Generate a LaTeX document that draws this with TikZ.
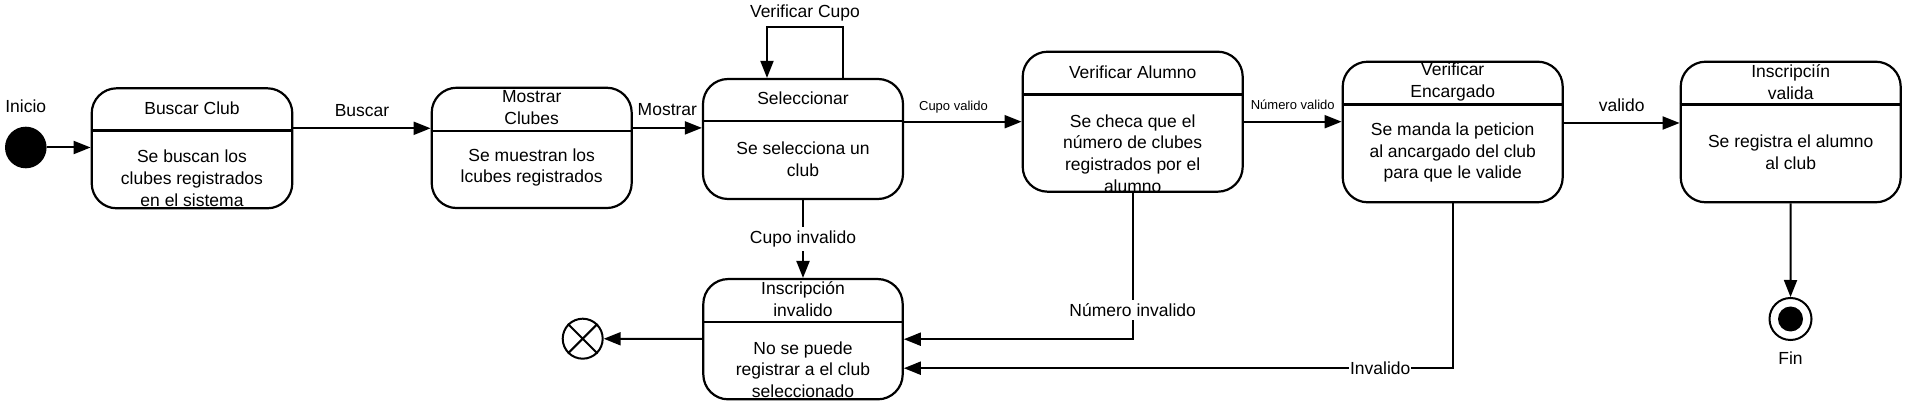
\documentclass[tikz,border=0pt]{standalone}
\usepackage{fontspec}
\setmainfont{Liberation Sans}
\usetikzlibrary{arrows.meta}
\usetikzlibrary{positioning}
\tikzstyle{estado} = [rectangle, rounded corners=25pt, draw=black, line width=2.2pt, inner sep=0pt]
\tikzstyle{texto} = [align=center, inner sep=1pt, font=\fontsize{17.5pt}{21.7pt}\selectfont]
\tikzstyle{chica} = [inner sep=1pt, font=\fontsize{13pt}{16pt}\selectfont]
\tikzstyle{corte} = [texto, fill=white, inner xsep=1pt, inner ysep=3.5pt]
\tikzstyle{flecha} = [line width=2pt, -{Triangle[length=17pt,width=13pt]}]
\tikzstyle{linea} = [line width=2.2pt]

\begin{document}
\begin{tikzpicture}[x=1pt,y=-1pt]
\useasboundingbox (0,0) rectangle (1909,411);

% inicio
\node (ini) [circle, fill=black, minimum size=41.6pt, inner sep=0pt] at (25.8,147.5) {};
\node (iniT) [texto, above=13pt of ini] {Inicio};

% Buscar Club
\node (buscar) [estado, minimum width=200.6pt, minimum height=120pt] at (192,148.3) {};
\node (buscarT) [texto] at (192,107.8) {Buscar Club};
\draw[linea] ([yshift=-43.4pt]buscar.north west) -- ([yshift=-43.4pt]buscar.north east);
\node (buscarB) [texto] at (192,178.3) {Se buscan los\\clubes registrados\\en el sistema};

% Mostrar Clubes
\node (mostrar) [estado, minimum width=200pt, minimum height=120.3pt] at (531.7,147.9) {};
\node (mostrarT) [texto] at (531.7,107.5) {Mostrar\\Clubes};
\draw[linea] ([yshift=-44pt]mostrar.north west) -- ([yshift=-44pt]mostrar.north east);
\node (mostrarB) [texto] at (531.7,167.5) {Se muestran los\\lcubes registrados};

% Seleccionar
\node (sel) [estado, minimum width=200pt, minimum height=120pt] at (803,139) {};
\node (selT) [texto] at (803,98.3) {Seleccionar};
\draw[linea] ([yshift=-43pt]sel.north west) -- ([yshift=-43pt]sel.north east);
\node (selB) [texto] at (803,159.2) {Se selecciona un\\club};

% Verificar Alumno
\node (alumno) [estado, minimum width=220pt, minimum height=140pt] at (1132.7,121.7) {};
\node (alumnoT) [texto] at (1132.7,72) {Verificar Alumno};
\draw[linea] ([yshift=-44pt]alumno.north west) -- ([yshift=-44pt]alumno.north east);
\node (alumnoB) [texto] at (1132.7,153.5) {Se checa que el\\número de clubes\\registrados por el\\alumno};

% Verificar Encargado
\node (enc) [estado, minimum width=220pt, minimum height=140.6pt] at (1452.7,132) {};
\node (encT) [texto] at (1452.7,82) {Verificar\\Encargado};
\draw[linea] ([yshift=-44pt]enc.north west) -- ([yshift=-44pt]enc.north east);
\node (encB) [texto] at (1452.7,152.5) {Se manda la peticion\\al ancargado del club\\para que le valide};

% Inscripcion valida
\node (valida) [estado, minimum width=220pt, minimum height=140.6pt] at (1790.7,132) {};
\node (validaT) [texto] at (1790.7,82) {Inscripciín\\valida};
\draw[linea] ([yshift=-44pt]valida.north west) -- ([yshift=-44pt]valida.north east);
\node (validaB) [texto] at (1790.7,152) {Se registra el alumno\\al club};

% Inscripcion invalido
\node (inval) [estado, minimum width=199.4pt, minimum height=120.3pt] at (803,339.2) {};
\node (invalT) [texto] at (803,298.8) {Inscripción\\invalido};
\draw[linea] ([yshift=-44.3pt]inval.north west) -- ([yshift=-44.3pt]inval.north east);
\node (invalB) [texto] at (803,369.5) {No se puede\\registrar a el club\\seleccionado};

% fin y terminacion
\node (fin) [circle, draw=black, line width=2pt, minimum size=42pt, inner sep=0pt] at (1790.5,319) {};
\node (finP) [circle, fill=black, minimum size=25pt, inner sep=0pt] at (fin) {};
\node (finT) [texto, below=10pt of fin] {Fin};
\node (term) [circle, draw=black, line width=2pt, minimum size=40pt, inner sep=0pt] at (582.7,338.7) {};
\draw[line width=2pt] (term.45) -- (term.225) (term.135) -- (term.-45);

% transiciones
\draw[flecha] (ini) -- (ini -| buscar.west);
\draw[flecha] ([yshift=20pt]buscar.east) -- node[texto, above=10pt] {Buscar} ([yshift=20pt]buscar.east -| mostrar.west);
\draw[flecha] ([yshift=20pt]mostrar.east) -- node[texto, above=10pt] {Mostrar} ([yshift=20pt]mostrar.east -| sel.west);
\draw[flecha] ([xshift=40pt]sel.north) -- ++(0pt,51pt) -| node[texto, above=4pt, pos=0.25] {Verificar Cupo} ([xshift=-36pt]sel.north);
\draw[flecha] (sel.east |- alumno) -- node[chica, above=6pt, pos=0.42] {Cupo valido} (alumno.west);
\draw[flecha] (alumno.east) -- node[chica, above=10pt] {Número valido} (alumno.east -| enc.west);
\draw[flecha] ([yshift=9pt]enc.east) -- node[texto, above=9pt] {valido} ([yshift=9pt]enc.east -| valida.west);
\draw[flecha] (valida) -- (fin);
\draw[flecha] (sel) -- node[corte] {Cupo invalido} (inval);
\draw[flecha] (alumno.south) |- node[corte, pos=0.40] {Número invalido} (inval.east);
\draw[flecha] (enc.south) |- node[corte, inner ysep=1pt, pos=0.566] {Invalido} ([yshift=-29pt]inval.east);
\draw[flecha] (inval) -- (term);
\end{tikzpicture}
\end{document}
